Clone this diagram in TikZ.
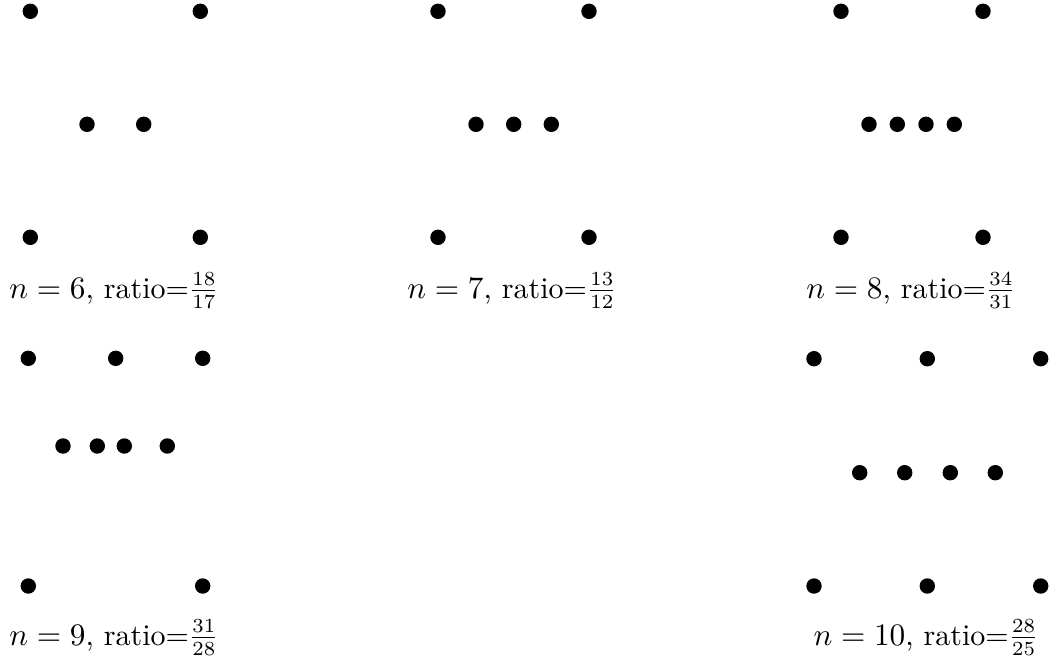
\documentclass[tikz,border=0pt]{standalone}
\usepackage{amsmath}
\usepackage{tikz}
\usetikzlibrary{positioning}
\tikzset{
  dot/.style={circle, fill=black, inner sep=0pt, minimum size=5.4pt},
  caption/.style={anchor=base, font=\fontsize{10.5}{12}\selectfont}
}

\begin{document}
\begin{tikzpicture}[x=0.35pt, y=-0.35pt]
    \useasboundingbox (0,0) rectangle (1050,661);
    % n = 6
    \node[dot] (a1) at (30.3, 11.3) {};
    \node[dot] (a2) at (200.3, 11.3) {};
    \node[dot] (a3) at (87, 124.3) {};
    \node[dot] (a4) at (143.7, 124.3) {};
    \node[dot] (a5) at (30.3, 237.3) {};
    \node[dot] (a6) at (200.3, 237.3) {};
    \node[caption] (labA) at (114, 298) {$n=6$, ratio=$\frac{18}{17}$};
    % n = 7
    \node[dot] (b1) at (438, 11.3) {};
    \node[dot] (b2) at (589, 11.3) {};
    \node[dot] (b3) at (476, 124.3) {};
    \node[dot] (b4) at (513.7, 124.3) {};
    \node[dot] (b5) at (551.3, 124.3) {};
    \node[dot] (b6) at (438, 237.3) {};
    \node[dot] (b7) at (589, 237.3) {};
    \node[caption] (labB) at (512, 298) {$n=7$, ratio=$\frac{13}{12}$};
    % n = 8
    \node[dot] (c1) at (841, 11.3) {};
    \node[dot] (c2) at (983, 11.3) {};
    \node[dot] (c3) at (869, 124.3) {};
    \node[dot] (c4) at (897.3, 124.3) {};
    \node[dot] (c5) at (926, 124.3) {};
    \node[dot] (c6) at (954.3, 124.3) {};
    \node[dot] (c7) at (841, 237.3) {};
    \node[dot] (c8) at (983, 237.3) {};
    \node[caption] (labC) at (911, 298) {$n=8$, ratio=$\frac{34}{31}$};
    % n = 9
    \node[dot] (d1) at (28.3, 358.3) {};
    \node[dot] (d2) at (115.7, 358.3) {};
    \node[dot] (d3) at (202.7, 358.3) {};
    \node[dot] (d4) at (63, 446) {};
    \node[dot] (d5) at (97.3, 446) {};
    \node[dot] (d6) at (124.3, 446) {};
    \node[dot] (d7) at (167.3, 446) {};
    \node[dot] (d8) at (28.3, 586) {};
    \node[dot] (d9) at (202.7, 586) {};
    \node[caption] (labD) at (114, 645) {$n=9$, ratio=$\frac{31}{28}$};
    % n = 10
    \node[dot] (e1) at (814, 358.7) {};
    \node[dot] (e2) at (927.3, 358.7) {};
    \node[dot] (e3) at (1040.7, 358.7) {};
    \node[dot] (e4) at (859.7, 472.7) {};
    \node[dot] (e5) at (904.7, 472.7) {};
    \node[dot] (e6) at (950.3, 472.7) {};
    \node[dot] (e7) at (995.3, 472.7) {};
    \node[dot] (e8) at (814, 586) {};
    \node[dot] (e9) at (927.3, 586) {};
    \node[dot] (e10) at (1040.7, 586) {};
    \node[caption] (labE) at (926, 645) {$n=10$, ratio=$\frac{28}{25}$};
  \end{tikzpicture}
\end{document}
